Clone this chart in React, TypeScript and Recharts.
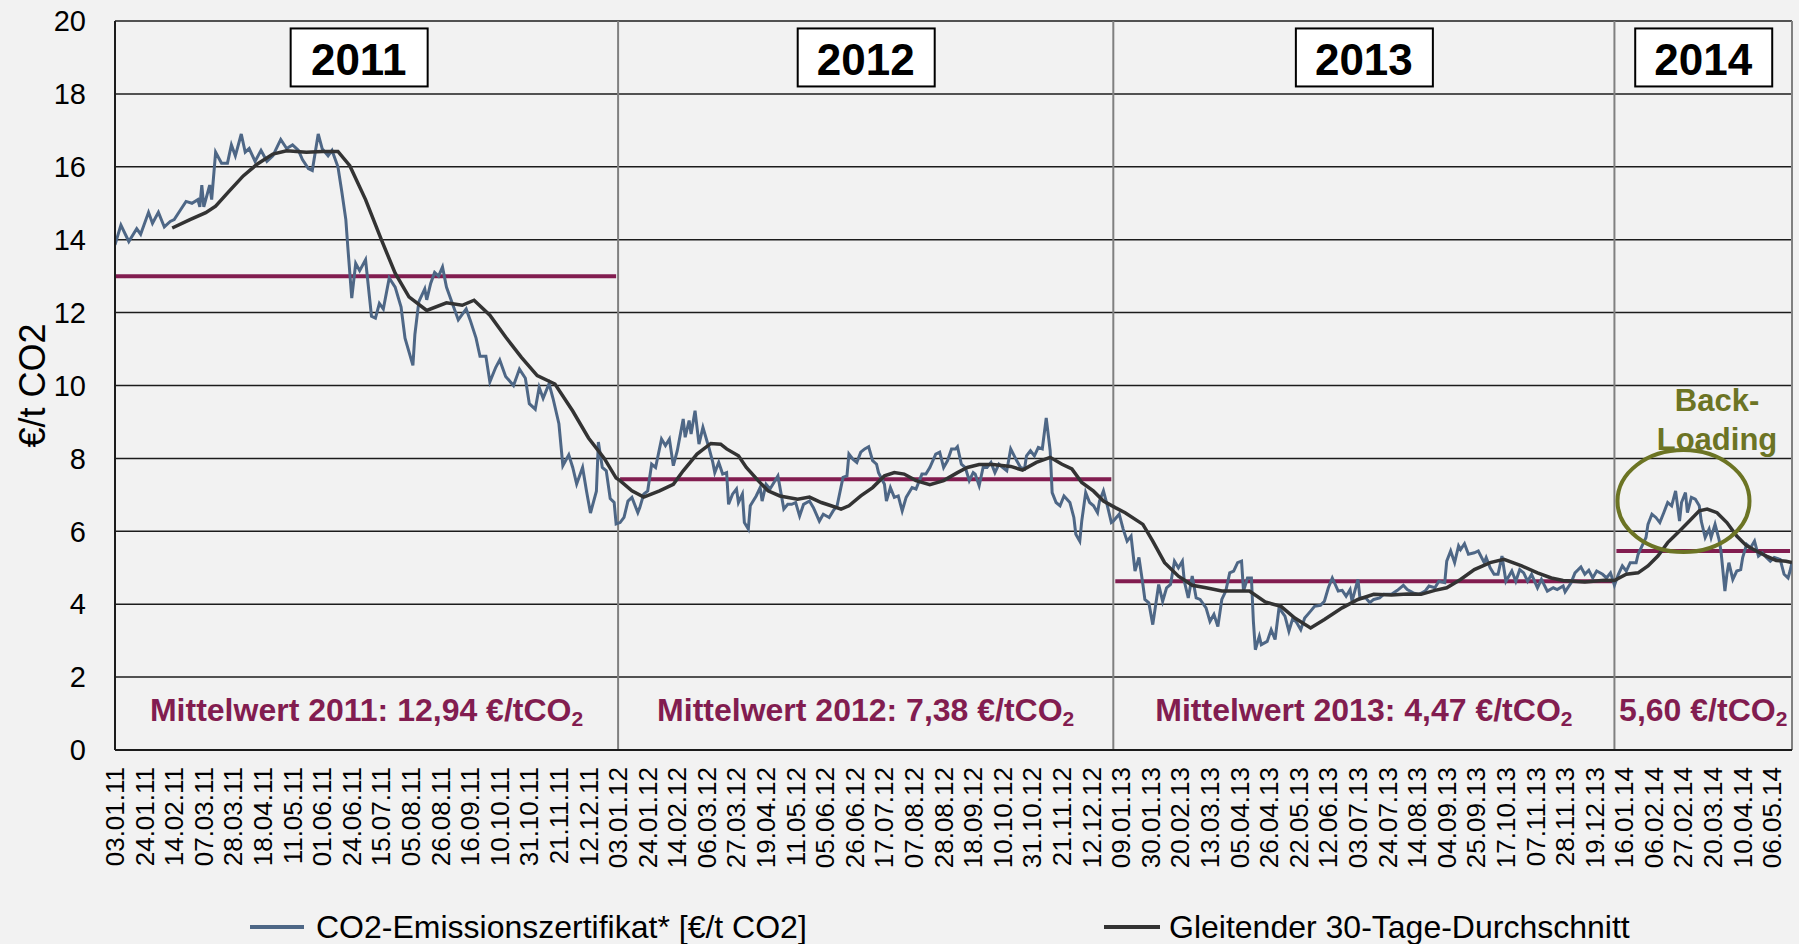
import {
  LineChart,
  Line,
  XAxis,
  YAxis,
  CartesianGrid,
  ReferenceLine,
  ReferenceDot,
  Legend,
  Label,
} from "recharts";

// trading day index (0 = 03.01.11) and price in €/t CO2
const price2011 = [
  [0, 13.86], [3, 14.4], [7, 13.95], [11, 14.3], [13, 14.15], [17, 14.75], [19, 14.45], [22, 14.75],
  [25, 14.35], [28, 14.5], [30, 14.55], [33, 14.8], [36, 15.05], [39, 15.0], [42, 15.1], [43, 14.9],
  [44, 15.5], [45, 14.9], [48, 15.5], [49, 15.1], [51, 16.4], [54, 16.1], [57, 16.1], [59, 16.6],
  [61, 16.3], [64, 16.9], [66, 16.4], [68, 16.5], [71, 16.15], [74, 16.45], [77, 16.15], [80, 16.3],
  [84, 16.75], [87, 16.5], [90, 16.6], [93, 16.45], [95, 16.2], [98, 15.95], [100, 15.9], [103, 16.9],
  [105, 16.5], [108, 16.3], [110, 16.45], [113, 16.0], [115, 15.3], [117, 14.55], [118, 13.8], [120, 12.4],
  [122, 13.35], [124, 13.15], [127, 13.45], [130, 11.9], [132, 11.85], [134, 12.25], [136, 12.1], [139, 12.95],
  [142, 12.7], [145, 12.15], [147, 11.3], [151, 10.55], [152, 11.4], [154, 12.3], [157, 12.65], [158, 12.35],
  [160, 12.8], [162, 13.1], [164, 13.0], [166, 13.25], [168, 12.7], [171, 12.25], [174, 11.8], [178, 12.1],
  [180, 11.8], [183, 11.3], [185, 10.8], [188, 10.8], [190, 10.1], [193, 10.5], [195, 10.7], [198, 10.25],
  [202, 10.0], [205, 10.45], [208, 10.2], [210, 9.5], [213, 9.35], [215, 9.95], [217, 9.65], [220, 10.05],
  [222, 9.65], [225, 8.95], [227, 7.8], [230, 8.1], [232, 7.75], [234, 7.3], [237, 7.75], [239, 7.1],
  [241, 6.5], [244, 7.1], [245, 8.45], [247, 7.75], [249, 7.66], [251, 6.9], [253, 6.79], [254, 6.2],
];
const price2012 = [
  [256, 6.24], [258, 6.38], [260, 6.83], [262, 6.93], [265, 6.51], [266, 6.65], [268, 7.02], [270, 7.11],
  [272, 7.84], [274, 7.75], [277, 8.53], [279, 8.35], [281, 8.53], [283, 7.8], [285, 8.21], [288, 9.08],
  [289, 8.58], [291, 9.04], [292, 8.67], [294, 9.31], [296, 8.39], [298, 8.85], [301, 8.3], [303, 7.89],
  [304, 7.61], [306, 7.89], [308, 7.57], [310, 7.61], [311, 6.74], [313, 7.02], [315, 7.16], [316, 6.79],
  [318, 7.02], [319, 6.24], [321, 6.06], [322, 6.7], [325, 6.97], [327, 7.2], [328, 6.83], [330, 7.29],
  [332, 7.16], [334, 7.34], [336, 7.52], [339, 6.61], [341, 6.74], [343, 6.74], [345, 6.79], [347, 6.42],
  [349, 6.74], [352, 6.83], [354, 6.65], [357, 6.28], [359, 6.47], [362, 6.38], [364, 6.56], [366, 6.7],
  [369, 7.48], [371, 7.52], [372, 8.12], [374, 7.98], [376, 7.89], [378, 8.17], [380, 8.26], [382, 8.32],
  [384, 7.94], [386, 7.84], [387, 7.61], [390, 7.29], [391, 6.83], [393, 7.2], [395, 6.93], [397, 6.97],
  [399, 6.56], [401, 6.93], [404, 7.2], [406, 7.16], [409, 7.57], [411, 7.57], [413, 7.75], [416, 8.12],
  [418, 8.17], [420, 7.75], [422, 7.94], [424, 8.26], [426, 8.26], [427, 8.32], [429, 7.84], [431, 7.75],
  [433, 7.39], [435, 7.61], [436, 7.57], [438, 7.25], [440, 7.75], [442, 7.75], [444, 7.89], [446, 7.61],
  [448, 7.84], [450, 7.75], [452, 7.66], [454, 8.26], [457, 7.94], [459, 7.75], [461, 7.71], [462, 8.07],
  [464, 8.21], [466, 8.07], [468, 8.3], [470, 8.26], [472, 9.11], [474, 8.21], [475, 7.06], [477, 6.79],
  [479, 6.7], [481, 6.97], [484, 6.79], [486, 6.38], [487, 5.92], [489, 5.73], [490, 6.28], [492, 7.06],
  [494, 6.79], [496, 6.7], [498, 6.51], [499, 6.83], [501, 7.11], [503, 6.7], [505, 6.24],
];
const price2013 = [
  [506, 6.28], [509, 6.47], [511, 6.06], [513, 5.73], [515, 5.87], [517, 4.91], [519, 5.28], [521, 4.54],
  [522, 4.13], [524, 4.04], [526, 3.44], [529, 4.54], [531, 4.08], [533, 4.45], [535, 4.54], [537, 5.18],
  [539, 5.0], [541, 5.18], [542, 4.63], [544, 4.17], [546, 4.77], [548, 4.17], [550, 4.13], [553, 3.9],
  [555, 3.53], [557, 3.72], [559, 3.39], [561, 4.13], [563, 4.36], [565, 4.86], [567, 4.91], [569, 5.14],
  [571, 5.18], [572, 4.36], [574, 4.72], [576, 4.72], [577, 3.53], [578, 2.75], [580, 3.12], [581, 2.89],
  [584, 2.98], [586, 3.3], [588, 3.03], [590, 3.9], [593, 3.67], [595, 3.26], [597, 3.62], [599, 3.49],
  [601, 3.3], [603, 3.62], [606, 3.81], [608, 3.94], [611, 3.97], [613, 4.08], [615, 4.45], [617, 4.72],
  [620, 4.36], [622, 4.38], [624, 4.22], [626, 4.4], [627, 4.08], [630, 4.68], [631, 4.17], [634, 4.17],
  [636, 4.04], [638, 4.13], [641, 4.17], [643, 4.27], [647, 4.27], [650, 4.38], [653, 4.52], [655, 4.4],
  [658, 4.31], [661, 4.27], [664, 4.36], [666, 4.5], [669, 4.45], [671, 4.63], [674, 4.59], [675, 5.18],
  [677, 5.46], [679, 5.14], [681, 5.6], [682, 5.5], [684, 5.66], [686, 5.37], [689, 5.41], [691, 5.46],
  [694, 5.14], [695, 5.28], [697, 5.0], [699, 4.82], [701, 4.82], [703, 5.32], [705, 4.63], [708, 4.91],
  [710, 4.63], [712, 4.95], [714, 4.86], [716, 4.63], [718, 4.82], [721, 4.45], [723, 4.68], [726, 4.36],
  [729, 4.45], [731, 4.4], [734, 4.5], [735, 4.34], [738, 4.59], [740, 4.86], [743, 5.02], [745, 4.82],
  [747, 4.93], [749, 4.72], [751, 4.91], [754, 4.82], [756, 4.72], [758, 4.86],
];
const price2014 = [
  [760, 4.52], [762, 4.82], [764, 5.05], [766, 4.91], [768, 5.14], [771, 5.14], [772, 5.37], [774, 5.6],
  [776, 5.83], [777, 6.19], [779, 6.47], [781, 6.38], [783, 6.24], [785, 6.51], [787, 6.79], [789, 6.7],
  [791, 7.11], [793, 6.28], [794, 6.79], [796, 7.06], [797, 6.51], [799, 6.93], [801, 6.88], [803, 6.7],
  [804, 6.28], [806, 5.83], [808, 6.06], [809, 5.83], [811, 6.19], [813, 5.78], [814, 5.46], [816, 4.36],
  [817, 4.82], [818, 5.14], [820, 4.68], [822, 4.91], [824, 4.95], [825, 5.28], [827, 5.64], [829, 5.55],
  [831, 5.73], [833, 5.32], [835, 5.41], [837, 5.28], [839, 5.18], [841, 5.28], [844, 5.23], [846, 4.82],
  [848, 4.72], [849, 4.91], [850, 5.14],
];

// 30-day moving average
const avg2011 = [
  [29, 14.32], [38, 14.55], [46, 14.74], [51, 14.92], [58, 15.34], [65, 15.75], [72, 16.07], [80, 16.35],
  [87, 16.44], [97, 16.4], [105, 16.42], [113, 16.42], [119, 16.03], [127, 15.1], [135, 14.0], [142, 13.08],
  [149, 12.43], [158, 12.06], [168, 12.27], [176, 12.2], [182, 12.34], [190, 11.93], [198, 11.33], [206, 10.77],
  [214, 10.27], [223, 10.04], [232, 9.3], [240, 8.56], [248, 8.0], [254, 7.46],
];
const avg2012 = [
  [256, 7.39], [262, 7.11], [268, 6.94], [276, 7.11], [283, 7.29], [288, 7.66], [295, 8.12], [302, 8.41],
  [307, 8.39], [310, 8.26], [316, 8.07], [320, 7.75], [326, 7.39], [331, 7.11], [337, 6.97], [346, 6.88],
  [352, 6.94], [358, 6.79], [363, 6.7], [368, 6.61], [372, 6.7], [378, 6.97], [384, 7.2], [390, 7.52],
  [395, 7.61], [400, 7.57], [406, 7.39], [413, 7.28], [420, 7.39], [427, 7.61], [432, 7.75], [438, 7.83],
  [445, 7.83], [454, 7.78], [460, 7.68], [467, 7.89], [474, 8.03], [480, 7.84], [485, 7.71], [490, 7.34],
  [496, 7.1], [501, 6.83],
];
const avg2013 = [
  [507, 6.65], [512, 6.51], [521, 6.19], [526, 5.73], [532, 5.14], [539, 4.77], [546, 4.52], [553, 4.45],
  [561, 4.36], [568, 4.36], [575, 4.36], [583, 4.06], [591, 3.94], [598, 3.62], [606, 3.35], [613, 3.58],
  [622, 3.9], [630, 4.13], [638, 4.27], [647, 4.25], [655, 4.28], [662, 4.27], [669, 4.38], [675, 4.45],
  [682, 4.68], [689, 4.95], [697, 5.14], [704, 5.23], [713, 5.05], [721, 4.86], [728, 4.72], [734, 4.65],
  [745, 4.61], [755, 4.66],
];
const avg2014 = [
  [760, 4.65], [766, 4.82], [772, 4.86], [777, 5.05], [782, 5.32], [787, 5.69], [793, 6.01], [798, 6.28],
  [803, 6.56], [807, 6.61], [812, 6.51], [817, 6.24], [822, 5.87], [827, 5.6], [832, 5.46], [837, 5.32],
  [842, 5.2], [847, 5.18], [850, 5.14],
];

const tickLabels = [
  "03.01.11", "24.01.11", "14.02.11", "07.03.11", "28.03.11", "18.04.11", "11.05.11", "01.06.11",
  "24.06.11", "15.07.11", "05.08.11", "26.08.11", "16.09.11", "10.10.11", "31.10.11", "21.11.11",
  "12.12.11", "03.01.12", "24.01.12", "14.02.12", "06.03.12", "27.03.12", "19.04.12", "11.05.12",
  "05.06.12", "26.06.12", "17.07.12", "07.08.12", "28.08.12", "18.09.12", "10.10.12", "31.10.12",
  "21.11.12", "12.12.12", "09.01.13", "30.01.13", "20.02.13", "13.03.13", "05.04.13", "26.04.13",
  "22.05.13", "12.06.13", "03.07.13", "24.07.13", "14.08.13", "04.09.13", "25.09.13", "17.10.13",
  "07.11.13", "28.11.13", "19.12.13", "16.01.14", "06.02.14", "27.02.14", "20.03.14", "10.04.14",
  "06.05.14",
];
const tickStep = 15;

const years = ["2011", "2012", "2013", "2014"];
const yearStart = [0, 255, 506, 760];
const yearEnd = [255, 506, 760, 850];
const yearMean = [13.0, 7.43, 4.63, 5.46];
const meanLabels = ["Mittelwert 2011: 12,94", "Mittelwert 2012: 7,38", "Mittelwert 2013: 4,47", "5,60"];
const seriesNames = ["CO2-Emissionszertifikat* [€/t CO2]", "Gleitender 30-Tage-Durchschnitt"];
const backLoading = { x: 795, y: 6.83, textX: 812, textY: 9.05, lines: ["Back-", "Loading"] };

const BLUE = "#4E6786";
const DARK = "#333333";
const MAROON = "#821D50";
const OLIVE = "#6C7424";
const BG = "#F2F2F2";
const FONT = "'Liberation Sans', Arial, sans-serif";

const toPoints = (rows: number[][]) => rows.map(([i, v]) => ({ i, v }));
const priceData = toPoints([...price2011, ...price2012, ...price2013, ...price2014]);
const avgData = toPoints([...avg2011, ...avg2012, ...avg2013, ...avg2014]);
const ticks = tickLabels.map((_, k) => k * tickStep);

const XTick = (props: any) => {
  const { x, y, payload } = props;
  const label = tickLabels[Math.round(payload.value / tickStep)];
  return (
    <text
      x={x}
      y={y}
      transform={`rotate(-90, ${x}, ${y})`}
      textAnchor="end"
      dominantBaseline="central"
      fontFamily={FONT}
      fontSize={26}
      fill="#000"
    >
      {label}
    </text>
  );
};

const renderLegend = () => (
  <div style={{ position: "relative", width: 1799, height: 60, fontFamily: FONT, fontSize: 32, color: "#000" }}>
    <div style={{ position: "absolute", left: 250, top: 41, width: 54, height: 4, background: BLUE }} />
    <span style={{ position: "absolute", left: 316, top: 24, lineHeight: "38px", whiteSpace: "nowrap" }}>
      {seriesNames[0]}
    </span>
    <div style={{ position: "absolute", left: 1104, top: 41, width: 56, height: 4, background: DARK }} />
    <span style={{ position: "absolute", left: 1169, top: 24, lineHeight: "38px", whiteSpace: "nowrap" }}>
      {seriesNames[1]}
    </span>
  </div>
);

const App = () => {
  return (
    <div style={{ position: "absolute", left: 0, top: 0, width: 1799, height: 944, background: BG }}>
      <LineChart width={1799} height={944} margin={{ top: 21, right: 7, bottom: 0, left: 0 }}>
        <CartesianGrid vertical={false} stroke="#1c1c1c" strokeWidth={1.5} />
        <XAxis
          dataKey="i"
          type="number"
          domain={[0, 850]}
          ticks={ticks}
          interval={0}
          allowDataOverflow
          height={134}
          tickLine={false}
          tickSize={8}
          tickMargin={9}
          tick={<XTick />}
          axisLine={{ stroke: "#1c1c1c", strokeWidth: 2 }}
        />
        <YAxis
          type="number"
          domain={[0, 20]}
          ticks={[0, 2, 4, 6, 8, 10, 12, 14, 16, 18, 20]}
          interval={0}
          width={115}
          tickLine={false}
          tickSize={0}
          tickMargin={29}
          tick={{ fontSize: 29, fill: "#000", fontFamily: FONT }}
          axisLine={{ stroke: "#1c1c1c", strokeWidth: 2 }}
        >
          <Label
            content={({ viewBox }: any) => {
              const cx = viewBox.x + 32;
              const cy = viewBox.y + viewBox.height / 2;
              return (
                <text
                  x={cx}
                  y={cy}
                  transform={`rotate(-90, ${cx}, ${cy})`}
                  textAnchor="middle"
                  dominantBaseline="central"
                  fontFamily={FONT}
                  fontSize={36}
                  fill="#000"
                >
                  €/t CO2
                </text>
              );
            }}
          />
        </YAxis>
        <Legend
          verticalAlign="bottom"
          height={60}
          content={renderLegend}
          wrapperStyle={{ left: 0, bottom: 0, width: 1799, height: 60 }}
        />

        {yearStart.slice(1).map((x) => (
          <ReferenceLine key={`div-${x}`} x={x} stroke="#808080" strokeWidth={2} />
        ))}
        <ReferenceLine x={yearEnd[yearEnd.length - 1]} stroke="#808080" strokeWidth={2} />

        {yearMean.map((m, k) => (
          <ReferenceLine
            key={`mean-${k}`}
            segment={[
              { x: yearStart[k] + (k > 0 ? 1 : 0), y: m },
              { x: yearEnd[k] - 1, y: m },
            ]}
            stroke={MAROON}
            strokeWidth={4}
          />
        ))}

        <Line
          data={priceData}
          dataKey="v"
          name={seriesNames[0]}
          stroke={BLUE}
          strokeWidth={3}
          dot={false}
          activeDot={false}
          isAnimationActive={false}
          type="linear"
        />
        <Line
          data={avgData}
          dataKey="v"
          name={seriesNames[1]}
          stroke={DARK}
          strokeWidth={3.5}
          dot={false}
          activeDot={false}
          isAnimationActive={false}
          type="linear"
        />

        {years.map((yr, k) => (
          <ReferenceDot
            key={`box-${yr}`}
            x={(yearStart[k] + yearEnd[k]) / 2 - (k === 0 ? 4 : 0)}
            y={19}
            ifOverflow="visible"
            shape={(p: any) => (
              <g>
                <rect x={p.cx - 68} y={p.cy - 29} width={137} height={58} fill="#fff" stroke="#000" strokeWidth={2} />
                <text
                  x={p.cx}
                  y={p.cy + 2}
                  textAnchor="middle"
                  dominantBaseline="central"
                  fontFamily={FONT}
                  fontWeight="bold"
                  fontSize={44}
                  fill="#000"
                >
                  {yr}
                </text>
              </g>
            )}
          />
        ))}

        {meanLabels.map((t, k) => (
          <ReferenceDot
            key={`mlab-${k}`}
            x={(yearStart[k] + yearEnd[k]) / 2}
            y={1.1}
            ifOverflow="visible"
            shape={(p: any) => (
              <text
                x={p.cx}
                y={p.cy}
                textAnchor="middle"
                dominantBaseline="central"
                fontFamily={FONT}
                fontWeight="bold"
                fontSize={32}
                fill={MAROON}
              >
                {t} €/tCO
                <tspan fontSize={21} dy={8}>2</tspan>
              </text>
            )}
          />
        ))}

        <ReferenceDot
          x={backLoading.x}
          y={backLoading.y}
          ifOverflow="visible"
          shape={(p: any) => (
            <ellipse cx={p.cx} cy={p.cy} rx={66} ry={51} fill="none" stroke={OLIVE} strokeWidth={4} />
          )}
        />
        <ReferenceDot
          x={backLoading.textX}
          y={backLoading.textY}
          ifOverflow="visible"
          shape={(p: any) => (
            <text
              x={p.cx}
              y={p.cy}
              textAnchor="middle"
              fontFamily={FONT}
              fontWeight="bold"
              fontSize={31}
              fill={OLIVE}
            >
              <tspan x={p.cx} dy={-9}>{backLoading.lines[0]}</tspan>
              <tspan x={p.cx} dy={39}>{backLoading.lines[1]}</tspan>
            </text>
          )}
        />
      </LineChart>
    </div>
  );
};

export default App;
